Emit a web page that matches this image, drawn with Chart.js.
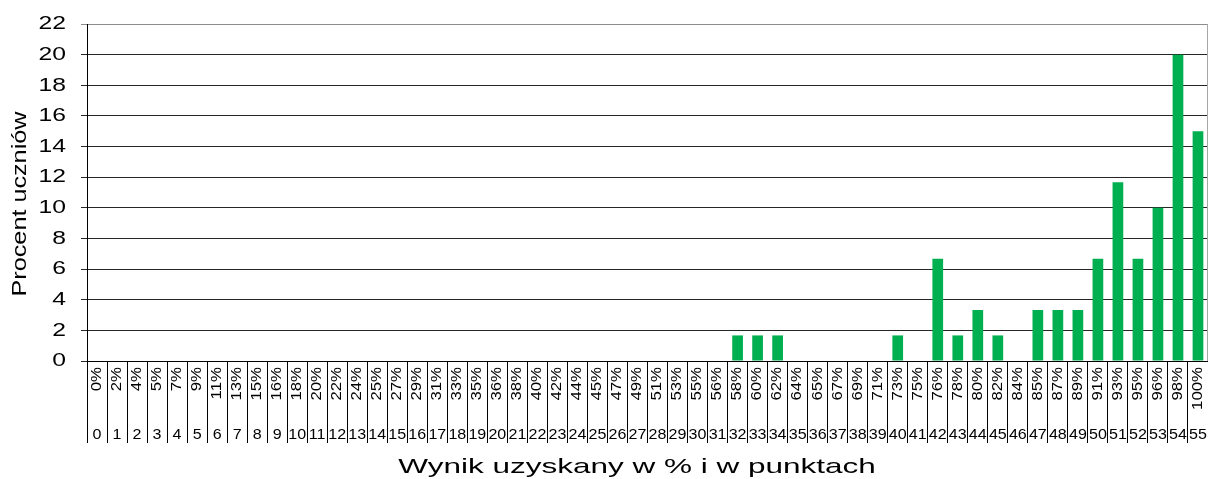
<!DOCTYPE html>
<html>
<head>
<meta charset="utf-8">
<script src="https://cdn.jsdelivr.net/npm/chart.js@4/dist/chart.umd.min.js"></script>
<style>
html,body{margin:0;padding:0;background:#fff;}
#wrap{width:1208px;height:479px;position:relative;}
</style>
</head>
<body>
<div id="wrap"><canvas id="c" width="1208" height="479"></canvas></div>
<script>
// ---- data ----
const pointLabels = ["0","1","2","3","4","5","6","7","8","9","10","11","12","13","14","15","16","17","18","19","20","21","22","23","24","25","26","27","28","29","30","31","32","33","34","35","36","37","38","39","40","41","42","43","44","45","46","47","48","49","50","51","52","53","54","55"];
const percentLabels = ["0%","2%","4%","5%","7%","9%","11%","13%","15%","16%","18%","20%","22%","24%","25%","27%","29%","31%","33%","35%","36%","38%","40%","42%","44%","45%","47%","49%","51%","53%","55%","56%","58%","60%","62%","64%","65%","67%","69%","71%","73%","75%","76%","78%","80%","82%","84%","85%","87%","89%","91%","93%","95%","96%","98%","100%"];
const studentPercent = [0,0,0,0,0,0,0,0,0,0,0,0,0,0,0,0,0,0,0,0,0,0,0,0,0,0,0,0,0,0,0,0,1.67,1.67,1.67,0,0,0,0,0,1.67,0,6.67,1.67,3.33,1.67,0,3.33,3.33,3.33,6.67,11.67,6.67,10,20,15];
const yTitle = "Procent uczniów";
const xTitle = "Wynik uzyskany w % i w punktach";

// ---- text width styling (wide Excel-like glyphs), keyed by font size ----
const FAMILY = "'Liberation Sans', Arial, sans-serif";
const STRETCH = {19:1.3, 20:1.26, 14:1.2, 15:1.07, 21:1.5};

const canvas = document.getElementById('c');
const ctx = canvas.getContext('2d');
const origFill = ctx.fillText.bind(ctx);
const origMeasure = ctx.measureText.bind(ctx);
function kFor(font){ const m = /(\d+(?:\.\d+)?)px/.exec(font); const s = m ? parseFloat(m[1]) : 0; return STRETCH[s] || 1; }
ctx.fillText = function(t, x, y, mw){
  const k = kFor(ctx.font);
  if (k === 1) return origFill(t, x, y);
  ctx.save(); ctx.translate(x, y); ctx.scale(k, 1); origFill(t, 0, 0); ctx.restore();
};
ctx.measureText = function(t){
  const m = origMeasure(t); const k = kFor(ctx.font);
  if (k === 1) return m;
  return {width: m.width*k, actualBoundingBoxAscent: m.actualBoundingBoxAscent, actualBoundingBoxDescent: m.actualBoundingBoxDescent,
          actualBoundingBoxLeft: m.actualBoundingBoxLeft*k, actualBoundingBoxRight: m.actualBoundingBoxRight*k};
};

const extras = {
  id: 'extras',
  afterDraw(chart){
    const a = chart.chartArea, c = chart.ctx;
    c.save(); c.strokeStyle = '#a6a6a6'; c.lineWidth = 1;
    c.beginPath(); c.moveTo(a.right - 0.5, a.top); c.lineTo(a.right - 0.5, a.bottom); c.stroke();
    c.fillStyle = '#000';
    c.textAlign = 'center'; c.textBaseline = 'middle';
    // x axis title
    c.font = "21px " + FAMILY;
    c.fillText(xTitle, 637, 467);
    // y axis title
    c.font = "20px " + FAMILY;
    c.translate(20, 204); c.rotate(-Math.PI / 2);
    c.fillText(yTitle, 0, 0);
    c.restore();
  }
};

new Chart(ctx, {
  type: 'bar',
  data: {
    labels: percentLabels,
    datasets: [{
      data: studentPercent,
      backgroundColor: '#00b050',
      borderWidth: 0,
      barPercentage: 0.535,
      categoryPercentage: 1.0,
      xAxisID: 'x', yAxisID: 'y'
    }]
  },
  plugins: [extras],
  options: {
    responsive: false,
    animation: false,
    events: [],
    layout: { padding: { top: 24, left: 0, right: 0, bottom: 0 } },
    plugins: { legend: { display: false }, tooltip: { enabled: false } },
    scales: {
      y: {
        min: 0, max: 22,
        ticks: { stepSize: 2, color: '#000', padding: 15, font: { family: FAMILY, size: 19 } },
        grid: { color: (c) => (c.tick && c.tick.value === 22 ? '#8c8c8c' : '#262626'), lineWidth: 1, tickLength: 6, drawTicks: true },
        border: { display: true, color: '#000', width: 1 },
        title: { display: false },
        afterFit: (s) => { s.width = 87; s.paddingTop = 0; s.paddingBottom = 0; }
      },
      x: {
        position: 'bottom', weight: 0, offset: true,
        ticks: { autoSkip: false, maxRotation: 90, minRotation: 90, color: '#000', padding: -76, font: { family: FAMILY, size: 14 } },
        grid: { offset: true, drawOnChartArea: false, drawTicks: true, tickLength: 82, color: '#000', lineWidth: 1 },
        border: { display: true, color: '#000', width: 1 },
        afterFit: (s) => { s.height = 56; s.paddingLeft = 0; s.paddingRight = 0; }
      },
      x2: {
        type: 'category', labels: pointLabels, position: 'bottom', weight: 1, offset: true,
        ticks: { autoSkip: false, maxRotation: 0, minRotation: 0, color: '#000', padding: 9, font: { family: FAMILY, size: 15 } },
        grid: { display: false, drawTicks: false },
        border: { display: false },
        title: { display: false },
        afterFit: (s) => { s.height = 62; s.paddingLeft = 0; s.paddingRight = 0; }
      }
    }
  }
});
</script>
</body>
</html>
